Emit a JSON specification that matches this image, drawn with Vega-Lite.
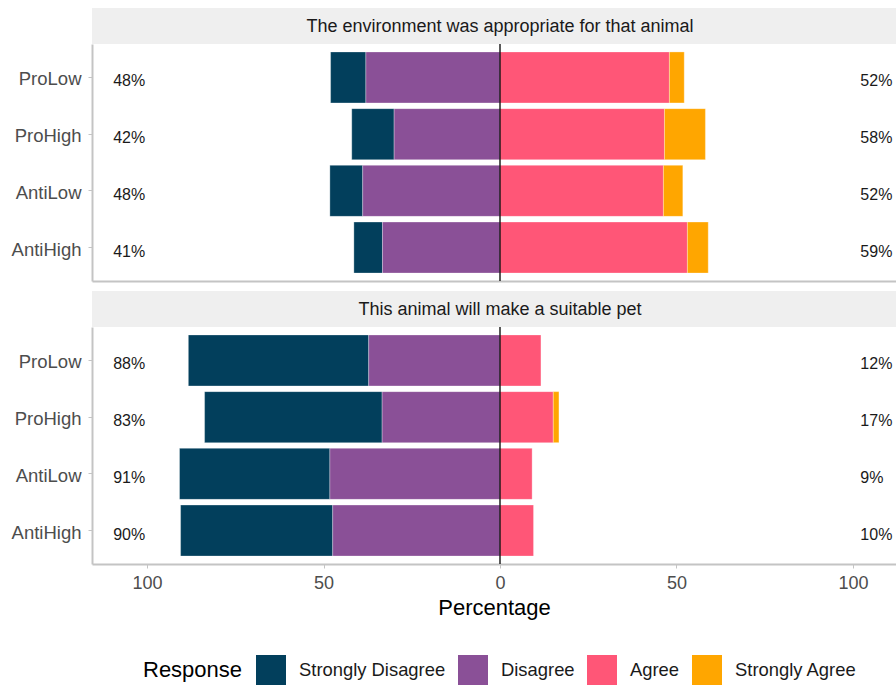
{
  "$schema": "https://vega.github.io/schema/vega-lite/v6.json",
  "padding": {"left": 0, "top": 8, "right": 0, "bottom": 0},
  "autosize": {"type": "pad"},
  "config": {"font": "Liberation Sans", "view": {"stroke": null}},
  "datasets": {
    "likert": [
      {"question": "env", "group": "ProLow", "response": "Strongly Disagree", "value": -10, "ord": 2},
      {"question": "env", "group": "ProLow", "response": "Disagree", "value": -38, "ord": 1},
      {"question": "env", "group": "ProLow", "response": "Agree", "value": 48, "ord": 1},
      {"question": "env", "group": "ProLow", "response": "Strongly Agree", "value": 4.2, "ord": 2},
      {"question": "env", "group": "ProHigh", "response": "Strongly Disagree", "value": -12, "ord": 2},
      {"question": "env", "group": "ProHigh", "response": "Disagree", "value": -30, "ord": 1},
      {"question": "env", "group": "ProHigh", "response": "Agree", "value": 46.6, "ord": 1},
      {"question": "env", "group": "ProHigh", "response": "Strongly Agree", "value": 11.6, "ord": 2},
      {"question": "env", "group": "AntiLow", "response": "Strongly Disagree", "value": -9.3, "ord": 2},
      {"question": "env", "group": "AntiLow", "response": "Disagree", "value": -38.9, "ord": 1},
      {"question": "env", "group": "AntiLow", "response": "Agree", "value": 46.3, "ord": 1},
      {"question": "env", "group": "AntiLow", "response": "Strongly Agree", "value": 5.5, "ord": 2},
      {"question": "env", "group": "AntiHigh", "response": "Strongly Disagree", "value": -8.1, "ord": 2},
      {"question": "env", "group": "AntiHigh", "response": "Disagree", "value": -33.3, "ord": 1},
      {"question": "env", "group": "AntiHigh", "response": "Agree", "value": 53.1, "ord": 1},
      {"question": "env", "group": "AntiHigh", "response": "Strongly Agree", "value": 5.9, "ord": 2},
      {"question": "pet", "group": "ProLow", "response": "Strongly Disagree", "value": -51.1, "ord": 2},
      {"question": "pet", "group": "ProLow", "response": "Disagree", "value": -37.2, "ord": 1},
      {"question": "pet", "group": "ProLow", "response": "Agree", "value": 11.6, "ord": 1},
      {"question": "pet", "group": "ProHigh", "response": "Strongly Disagree", "value": -50.3, "ord": 2},
      {"question": "pet", "group": "ProHigh", "response": "Disagree", "value": -33.4, "ord": 1},
      {"question": "pet", "group": "ProHigh", "response": "Agree", "value": 15.1, "ord": 1},
      {"question": "pet", "group": "ProHigh", "response": "Strongly Agree", "value": 1.6, "ord": 2},
      {"question": "pet", "group": "AntiLow", "response": "Strongly Disagree", "value": -42.6, "ord": 2},
      {"question": "pet", "group": "AntiLow", "response": "Disagree", "value": -48.2, "ord": 1},
      {"question": "pet", "group": "AntiLow", "response": "Agree", "value": 9.1, "ord": 1},
      {"question": "pet", "group": "AntiHigh", "response": "Strongly Disagree", "value": -43.1, "ord": 2},
      {"question": "pet", "group": "AntiHigh", "response": "Disagree", "value": -47.4, "ord": 1},
      {"question": "pet", "group": "AntiHigh", "response": "Agree", "value": 9.5, "ord": 1}
    ],
    "labels": [
      {"question": "env", "group": "ProLow", "left": "48%", "right": "52%"},
      {"question": "env", "group": "ProHigh", "left": "42%", "right": "58%"},
      {"question": "env", "group": "AntiLow", "left": "48%", "right": "52%"},
      {"question": "env", "group": "AntiHigh", "left": "41%", "right": "59%"},
      {"question": "pet", "group": "ProLow", "left": "88%", "right": "12%"},
      {"question": "pet", "group": "ProHigh", "left": "83%", "right": "17%"},
      {"question": "pet", "group": "AntiLow", "left": "91%", "right": "9%"},
      {"question": "pet", "group": "AntiHigh", "left": "90%", "right": "10%"}
    ],
    "strips": [
      {"question": "env", "title": "The environment was appropriate for that animal"},
      {"question": "pet", "title": "This animal will make a suitable pet"}
    ]
  },
  "spacing": 0,
  "bounds": "flush",
  "vconcat": [
    {
      "width": 804, "height": 36,
      "view": {"fill": "#EFEFEF", "stroke": null},
      "data": {"name": "strips"},
      "transform": [{"filter": "datum.question == 'env'"}],
      "mark": {"type": "text", "fontSize": 18, "color": "#1a1a1a", "baseline": "middle", "align": "center", "dy": 1},
      "encoding": {
        "text": {"field": "title"},
        "x": {"datum": 0, "type": "quantitative", "scale": {"domain": [-115.6, 112.2], "nice": false, "zero": false}, "axis": null}
      }
    },
    {
      "width": 804, "height": 237,
      "layer": [
        {
          "data": {"name": "likert"},
          "transform": [{"filter": "datum.question == 'env'"}],
          "mark": {"type": "bar", "stroke": "white", "strokeWidth": 0.6, "strokeOpacity": 0.5},
          "encoding": {
            "y": {"field": "group", "type": "nominal", "sort": ["ProLow", "ProHigh", "AntiLow", "AntiHigh"],
                  "scale": {"paddingInner": 0.1, "paddingOuter": 0.14},
                  "axis": {"title": null, "labelFontSize": 18.5, "labelColor": "#4d4d4d", "labelOffset": 2, "tickColor": "#c4c4c4", "tickSize": 4, "labelPadding": 7, "domainColor": "#c4c4c4", "domainWidth": 2, "minExtent": 92, "maxExtent": 92}},
            "x": {"field": "value", "type": "quantitative", "stack": "zero",
                  "scale": {"domain": [-115.6, 112.2], "nice": false, "zero": false},
                  "axis": {"title": null, "labels": false, "ticks": false, "grid": false, "domainColor": "#c4c4c4", "domainWidth": 2}},
            "color": {"field": "response", "type": "nominal",
                      "scale": {"domain": ["Strongly Disagree", "Disagree", "Agree", "Strongly Agree"], "range": ["#023F5C", "#8A5097", "#FF5677", "#FFA600"]},
                      "legend": {"orient": "none", "legendX": 51, "legendY": 647, "direction": "horizontal", "title": "Response", "titleOrient": "left", "titleAnchor": "middle", "titleBaseline": "middle", "titleFontSize": 22, "titleFontWeight": "normal", "titleColor": "#000000", "titlePadding": 13, "labelFontSize": 18.4, "labelColor": "#1a1a1a", "labelOffset": 13, "columnPadding": 12, "symbolType": "square", "symbolSize": 900, "symbolStrokeWidth": 0, "symbolOpacity": 1}},
            "order": {"field": "ord", "type": "quantitative"}
          }
        },
        {
          "data": {"values": [{"zero": 0}]},
          "mark": {"type": "rule", "color": "#000000", "strokeWidth": 1.3},
          "encoding": {"x": {"field": "zero", "type": "quantitative"}}
        },
        {
          "data": {"name": "labels"},
          "transform": [{"filter": "datum.question == 'env'"}],
          "mark": {"type": "text", "fontSize": 16, "color": "#1a1a1a", "align": "left", "baseline": "middle", "dy": 4},
          "encoding": {
            "y": {"field": "group", "type": "nominal", "sort": ["ProLow", "ProHigh", "AntiLow", "AntiHigh"]},
            "x": {"datum": -109.6, "type": "quantitative"},
            "text": {"field": "left"}
          }
        },
        {
          "data": {"name": "labels"},
          "transform": [{"filter": "datum.question == 'env'"}],
          "mark": {"type": "text", "fontSize": 16, "color": "#1a1a1a", "align": "left", "baseline": "middle", "dy": 4},
          "encoding": {
            "y": {"field": "group", "type": "nominal", "sort": ["ProLow", "ProHigh", "AntiLow", "AntiHigh"]},
            "x": {"datum": 102.1, "type": "quantitative"},
            "text": {"field": "right"}
          }
        }
      ]
    },
    {
      "width": 804, "height": 10,
      "data": {"values": []},
      "mark": "point"
    },
    {
      "width": 804, "height": 36,
      "view": {"fill": "#EFEFEF", "stroke": null},
      "data": {"name": "strips"},
      "transform": [{"filter": "datum.question == 'pet'"}],
      "mark": {"type": "text", "fontSize": 18, "color": "#1a1a1a", "baseline": "middle", "align": "center", "dy": 1},
      "encoding": {
        "text": {"field": "title"},
        "x": {"datum": 0, "type": "quantitative", "scale": {"domain": [-115.6, 112.2], "nice": false, "zero": false}, "axis": null}
      }
    },
    {
      "width": 804, "height": 237,
      "layer": [
        {
          "data": {"name": "likert"},
          "transform": [{"filter": "datum.question == 'pet'"}],
          "mark": {"type": "bar", "stroke": "white", "strokeWidth": 0.6, "strokeOpacity": 0.5},
          "encoding": {
            "y": {"field": "group", "type": "nominal", "sort": ["ProLow", "ProHigh", "AntiLow", "AntiHigh"],
                  "scale": {"paddingInner": 0.1, "paddingOuter": 0.14},
                  "axis": {"title": null, "labelFontSize": 18.5, "labelColor": "#4d4d4d", "labelOffset": 2, "tickColor": "#c4c4c4", "tickSize": 4, "labelPadding": 7, "domainColor": "#c4c4c4", "domainWidth": 2, "minExtent": 92, "maxExtent": 92}},
            "x": {"field": "value", "type": "quantitative", "stack": "zero",
                  "scale": {"domain": [-115.6, 112.2], "nice": false, "zero": false},
                  "axis": {"title": "Percentage", "values": [-100, -50, 0, 50, 100], "labelExpr": "abs(datum.value)", "grid": false, "labelFontSize": 18, "labelColor": "#4d4d4d", "ticks": true, "tickSize": 4, "tickColor": "#c4c4c4", "labelPadding": 6, "domainColor": "#c4c4c4", "domainWidth": 2, "titleFontSize": 22, "titleFontWeight": "normal", "titleColor": "#000000", "titlePadding": 5}},
            "color": {"field": "response", "type": "nominal",
                      "scale": {"domain": ["Strongly Disagree", "Disagree", "Agree", "Strongly Agree"], "range": ["#023F5C", "#8A5097", "#FF5677", "#FFA600"]},
                      "legend": {"orient": "none", "legendX": 51, "legendY": 647, "direction": "horizontal", "title": "Response", "titleOrient": "left", "titleAnchor": "middle", "titleBaseline": "middle", "titleFontSize": 22, "titleFontWeight": "normal", "titleColor": "#000000", "titlePadding": 13, "labelFontSize": 18.4, "labelColor": "#1a1a1a", "labelOffset": 13, "columnPadding": 12, "symbolType": "square", "symbolSize": 900, "symbolStrokeWidth": 0, "symbolOpacity": 1}},
            "order": {"field": "ord", "type": "quantitative"}
          }
        },
        {
          "data": {"values": [{"zero": 0}]},
          "mark": {"type": "rule", "color": "#000000", "strokeWidth": 1.3},
          "encoding": {"x": {"field": "zero", "type": "quantitative"}}
        },
        {
          "data": {"name": "labels"},
          "transform": [{"filter": "datum.question == 'pet'"}],
          "mark": {"type": "text", "fontSize": 16, "color": "#1a1a1a", "align": "left", "baseline": "middle", "dy": 4},
          "encoding": {
            "y": {"field": "group", "type": "nominal", "sort": ["ProLow", "ProHigh", "AntiLow", "AntiHigh"]},
            "x": {"datum": -109.6, "type": "quantitative"},
            "text": {"field": "left"}
          }
        },
        {
          "data": {"name": "labels"},
          "transform": [{"filter": "datum.question == 'pet'"}],
          "mark": {"type": "text", "fontSize": 16, "color": "#1a1a1a", "align": "left", "baseline": "middle", "dy": 4},
          "encoding": {
            "y": {"field": "group", "type": "nominal", "sort": ["ProLow", "ProHigh", "AntiLow", "AntiHigh"]},
            "x": {"datum": 102.1, "type": "quantitative"},
            "text": {"field": "right"}
          }
        }
      ]
    }
  ],
  "resolve": {"scale": {"color": "shared"}}
}
